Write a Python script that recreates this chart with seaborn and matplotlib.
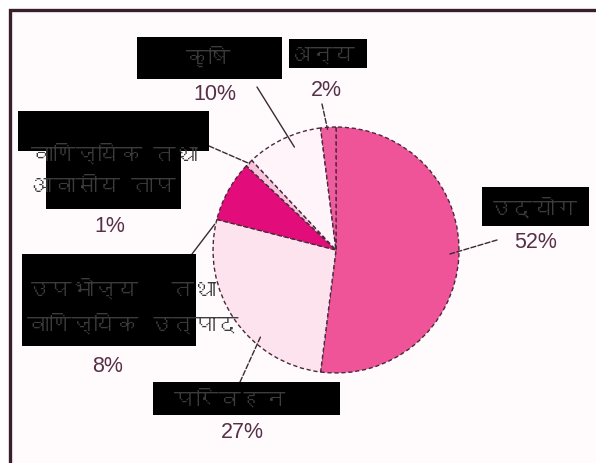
import numpy as np
import matplotlib
matplotlib.use("Agg")
import matplotlib.pyplot as plt
import seaborn as sns
from matplotlib import font_manager
from matplotlib.ft2font import FT2Font
from matplotlib.patches import Rectangle

# data
sectors = ["उद्योग", "परिवहन", "उपभोज्य   तथा\nवाणिज्यिक उत्पाद",
           "वाणिज्यिक तथा\nआवासीय ताप", "कृषि", "अन्य"]
shares = [52, 27, 8, 1, 10, 2]
pct_labels = ["52%", "27%", "8%", "1%", "10%", "2%"]

# styles / layout (pixel coords, y from top)
W, H = 596, 464
colors = ["#ef5499", "#fde3ee", "#e20c7b", "#f7c3da", "#fff4f9", "#ee5c9e"]
center_px = (336, 251)
radius_px = 123
name_pos = [(533, 208, "center"), (230, 400, "center"), (27, 307, "left"),
            (31, 170, "left"), (208, 57, "center"), (321, 56, "center")]
boxes = [[(482, 188, 589, 227)], [(153, 383, 340, 416)], [(22, 255, 196, 347)],
         [(18, 112, 209, 152), (46, 152, 181, 210)], [(137, 38, 282, 80)],
         [(289, 40, 367, 69)]]
pct_pos = [(536, 243), (242, 433), (108, 367), (110, 227), (215, 95), (326, 90)]
leader_from = [(497, 241), (240, 383), (192, 255), (209, 147), (257, 88), (322, 105)]
leader_to = [(-2, 114), (229, 115), (168, 124), (135, 122), (112, 111), (94, 121)]
leader_ls = ["--", "--", "-", "--", "-", "--"]


def find_deva():
    for f in font_manager.fontManager.ttflist:
        if "CJK" in f.name:
            continue
        try:
            if 0x0915 in FT2Font(f.fname).get_charmap():
                return f.name
        except Exception:
            pass
    return None


sns.set_theme(style="white")
deva = find_deva()
fams = ([deva] if deva else []) + ["Liberation Sans", "DejaVu Sans"]
plt.rcParams["font.family"] = fams


def P(x, y):
    return (x, H - y)


fig = plt.figure(figsize=(W / 100, H / 100), dpi=100)
fig.patch.set_facecolor("white")
ax = fig.add_axes([0, 0, 1, 1])

# panel background + frame (top and left edges visible)
ax.add_patch(Rectangle(P(10, 464), W, 464 - 11, facecolor="#fffafc", edgecolor="none", zorder=0))
ax.plot([10, 10, W], [0, H - 11, H - 11], color="#3b1e2c", lw=2.4, zorder=1, solid_joinstyle="miter")

cx, cy = P(*center_px)
wedges, _ = ax.pie(shares, colors=colors, startangle=90, counterclock=False,
                   center=(cx, cy), radius=radius_px,
                   wedgeprops=dict(edgecolor="#4a2a3a", linewidth=1.0,
                                   linestyle=(0, (3, 2))))
for w in wedges:
    w.set_zorder(2)

for i in range(len(shares)):
    for (x0, y0, x1, y1) in boxes[i]:
        ax.add_patch(Rectangle(P(x0, y1), x1 - x0, y1 - y0, facecolor="black",
                               edgecolor="none", zorder=4))
    x, y, ha = name_pos[i]
    ax.text(*P(x, y), sectors[i], ha=ha, va="center", fontsize=16,
            color="#3c3c3c", linespacing=1.75, zorder=5)
    ax.text(*P(*pct_pos[i]), pct_labels[i], ha="center", va="center", fontsize=15.5,
            color="#553047", family=["Liberation Sans", "DejaVu Sans"], zorder=5)
    ang, r = leader_to[i]
    tx = cx + r * np.cos(np.radians(ang))
    ty = cy + r * np.sin(np.radians(ang))
    ax.annotate("", xy=(tx, ty), xytext=P(*leader_from[i]),
                arrowprops=dict(arrowstyle="-", color="#3a2a33", lw=1.0,
                                linestyle=leader_ls[i], shrinkA=0, shrinkB=0),
                zorder=3)

ax.set_xlim(0, W)
ax.set_ylim(0, H)
ax.set_aspect("auto")
ax.axis("off")

fig.savefig("out.png", dpi=100, facecolor="white")
